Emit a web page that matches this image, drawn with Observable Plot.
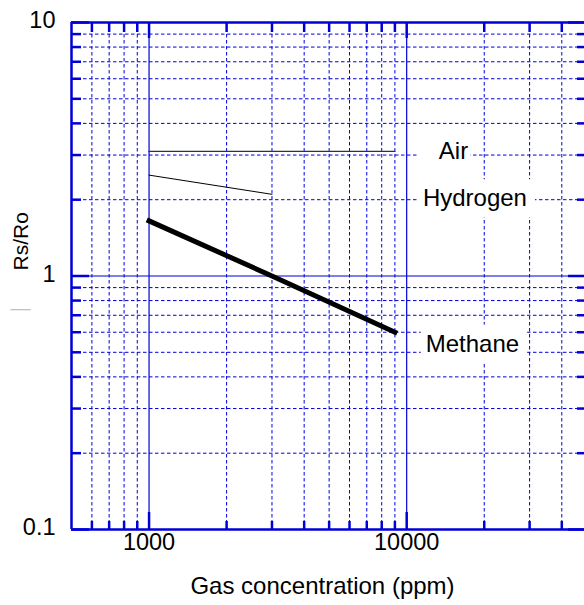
<!DOCTYPE html>
<html><head><meta charset="utf-8">
<script src="https://cdn.jsdelivr.net/npm/d3@7"></script>
<script src="https://cdn.jsdelivr.net/npm/@observablehq/plot@0.6"></script>
<style>body{margin:0;background:#fff} #chart svg{display:block}</style>
</head><body><div id="chart"></div>
<script>
// ---- data ----
const airConc = [1000, 9000];
const airRatio = [3.1, 3.1];
const hydrogenConc = [1000, 3000];
const hydrogenRatio = [2.5, 2.1];
const methaneConc = [1000, 3000, 9000];
const methaneRatio = [1.65, 1.0, 0.6];
const gasNames = ["Air", "Hydrogen", "Methane"];
const labelConc = [15200, 18400, 18000];
const labelRatio = [3.1, 2.02, 0.54];
const xMajorTicks = [1000, 10000];
const xMinorTicks = [600, 700, 800, 900, 2000, 3000, 4000, 5000, 6000, 7000, 8000, 9000, 20000, 30000, 40000];
const yMajorTicks = [0.1, 1, 10];
const yGridMajor = [1];
const yMinorTicks = [0.2, 0.3, 0.4, 0.5, 0.6, 0.7, 0.8, 0.9, 2, 3, 4, 5, 6, 7, 8, 9];
const xTickLabels = ["1000", "10000"];
const yTickLabels = ["0.1", "1", "10"];
const xTitle = "Gas concentration (ppm)";
const yTitle = "Rs/Ro";
const xDomain = [500, 49000];
const yDomain = [0.1, 10];

// ---- layout / style ----
const W = 584, H = 605, ML = 71, MR = 0, MT = 22, MB = 76;
const PW = W - ML - MR, PH = H - MT - MB;
const BLUE = "#0000d8";
const FONT = "'Liberation Sans', Arial, sans-serif";

const rows = (xs, ys) => xs.map((c, i) => ({c, r: ys[i]}));

const chart = Plot.plot({
  width: W, height: H,
  marginLeft: ML, marginRight: MR, marginTop: MT, marginBottom: MB,
  x: {type: "log", domain: xDomain, axis: null},
  y: {type: "log", domain: yDomain, axis: null},
  style: {fontFamily: FONT, background: "white", color: "#000"},
  marks: [
    // grid
    Plot.ruleX(xMinorTicks, {x: d => d, stroke: BLUE, strokeWidth: 1, strokeDasharray: "3.5,2.5"}),
    Plot.ruleY(yMinorTicks, {y: d => d, stroke: BLUE, strokeWidth: 1, strokeDasharray: "3.5,2.5"}),
    Plot.ruleX(xMajorTicks, {x: d => d, stroke: BLUE, strokeWidth: 1.2}),
    Plot.ruleY(yGridMajor, {y: d => d, stroke: BLUE, strokeWidth: 1.2}),
    // inward ticks
    Plot.ruleX(xMinorTicks, {x: d => d, insetTop: PH - 8, stroke: BLUE, strokeWidth: 2.5}),
    Plot.ruleX(xMajorTicks, {x: d => d, insetTop: PH - 17, stroke: BLUE, strokeWidth: 2.5}),
    Plot.ruleX(xMinorTicks, {x: d => d, insetBottom: PH - 10, stroke: BLUE, strokeWidth: 2.5}),
    Plot.ruleX(xMajorTicks, {x: d => d, insetBottom: PH - 16, stroke: BLUE, strokeWidth: 2.5}),
    Plot.ruleY(yMinorTicks, {y: d => d, insetRight: PW - 10, stroke: BLUE, strokeWidth: 2.5}),
    Plot.ruleY(yMajorTicks, {y: d => d, insetRight: PW - 18, stroke: BLUE, strokeWidth: 2.5}),
    Plot.ruleY(yMinorTicks, {y: d => d, insetLeft: PW - 7, stroke: BLUE, strokeWidth: 2.5}),
    Plot.ruleY(yMajorTicks, {y: d => d, insetLeft: PW - 16, stroke: BLUE, strokeWidth: 2.5}),
    // frame lines
    Plot.ruleX([xDomain[0]], {x: d => d, stroke: BLUE, strokeWidth: 2.5}),
    Plot.ruleY(yDomain, {y: d => d, stroke: BLUE, strokeWidth: 2.5}),
    // curves
    Plot.line(rows(airConc, airRatio), {x: "c", y: "r", stroke: "#333", strokeWidth: 1.3}),
    Plot.line(rows(hydrogenConc, hydrogenRatio), {x: "c", y: "r", stroke: "#000", strokeWidth: 1}),
    Plot.line(rows(methaneConc, methaneRatio), {x: "c", y: "r", stroke: "#000", strokeWidth: 5, strokeLinecap: "square"}),
    // curve labels
    Plot.text(gasNames, {x: (d, i) => labelConc[i], y: (d, i) => labelRatio[i], text: d => d, fontSize: 24, fill: "#000"}),
    // tick labels
    Plot.text(xMajorTicks, {x: d => d, frameAnchor: "bottom", dy: 20, text: (d, i) => xTickLabels[i], fontSize: 23.5, fill: "#000"}),
    Plot.text(yMajorTicks, {y: d => d, frameAnchor: "left", dx: -16, dy: -2, textAnchor: "end", text: (d, i) => yTickLabels[i], fontSize: 23.5, fill: "#000"}),
    // titles
    Plot.text([xTitle], {frameAnchor: "bottom", dx: -5.5, dy: 64.5, text: d => d, fontSize: 24, fill: "#000"}),
    Plot.text([yTitle], {frameAnchor: "left", dx: -50, dy: -5.5, rotate: -90, text: d => d, fontSize: 21, fill: "#000"}),
    Plot.text(["—"], {frameAnchor: "left", dx: -61, dy: 32.5, text: d => d, fontSize: 20, fill: "#c0c0c0"})
  ]
});

document.getElementById("chart").appendChild(chart);

// white boxes behind curve labels
const padL = [20, 4, 5], padR = 2, padT = 5, padB = 6;
chart.querySelectorAll("text").forEach(t => {
  const k = gasNames.indexOf(t.textContent);
  if (k < 0) return;
  const b = t.getBBox();
  const rect = document.createElementNS("http://www.w3.org/2000/svg", "rect");
  rect.setAttribute("x", b.x - padL[k]);
  rect.setAttribute("y", b.y - padT);
  rect.setAttribute("width", b.width + padL[k] + padR + (k === 0 ? 0 : 6));
  rect.setAttribute("height", b.height + padT + padB);
  rect.setAttribute("fill", "white");
  const tr = t.getAttribute("transform");
  if (tr) rect.setAttribute("transform", tr);
  t.parentNode.insertBefore(rect, t);
});
</script>
</body></html>
